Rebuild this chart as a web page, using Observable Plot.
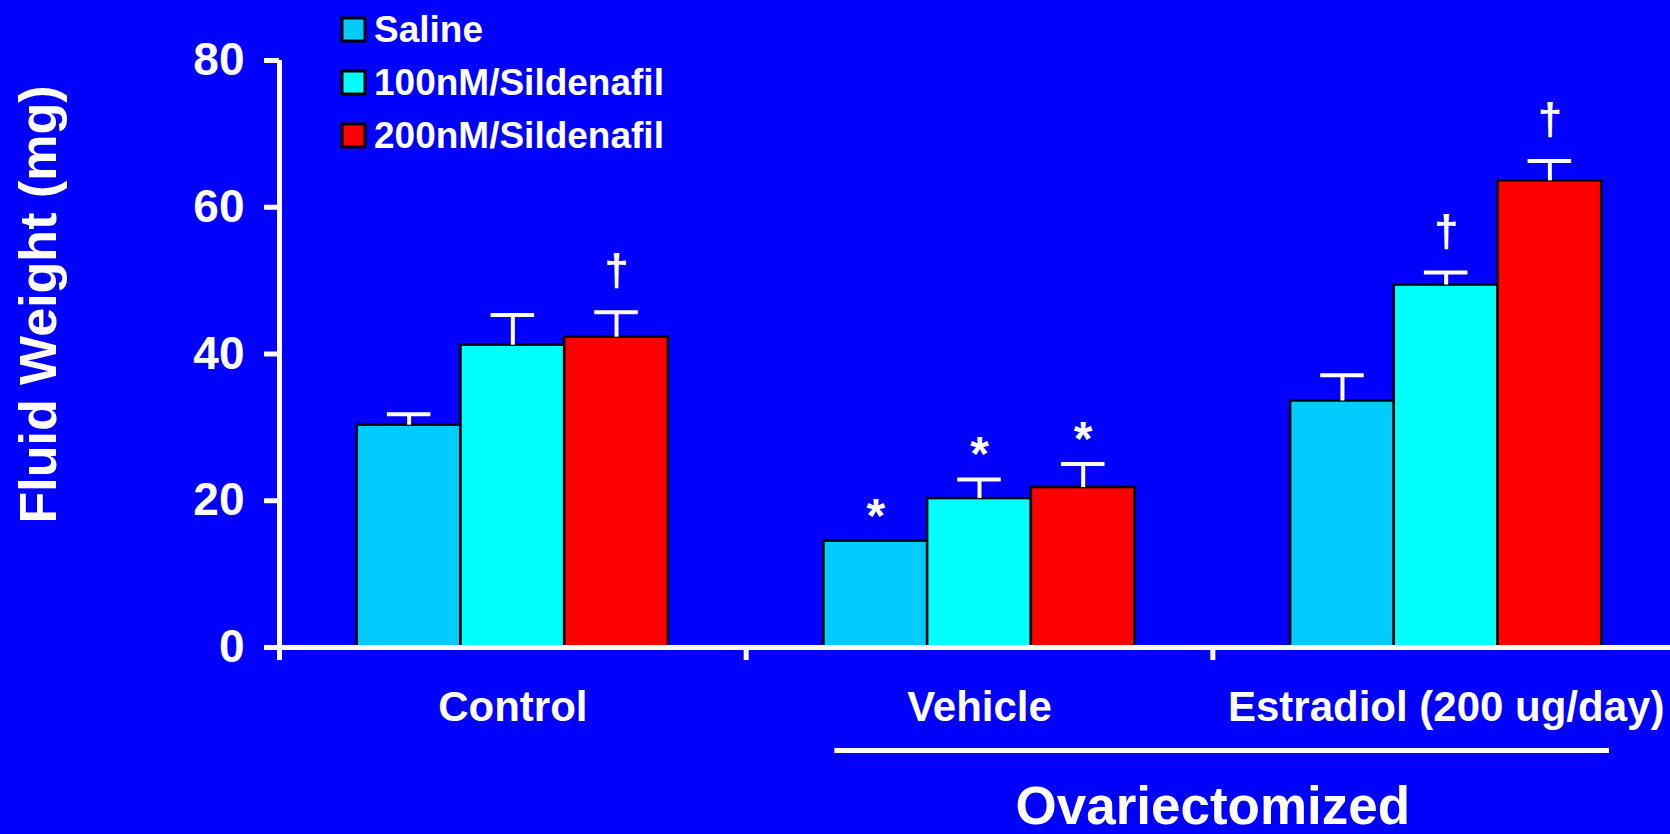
<!DOCTYPE html>
<html>
<head>
<meta charset="utf-8">
<script src="https://cdn.jsdelivr.net/npm/d3@7"></script>
<script src="https://cdn.jsdelivr.net/npm/@observablehq/plot@0.6"></script>
<style>
html, body { margin: 0; padding: 0; background: #0000FF; }
#wrap { position: relative; width: 1670px; height: 834px; overflow: hidden; background: #0000FF; }
#legend { position: absolute; left: 342px; top: 3px; }
#legend, #legend * { font-family: "Liberation Sans", Arial, Helvetica, sans-serif !important; font-weight: bold !important; font-size: 37px !important; color: #ffffff !important; }
#legend > div { margin: 0 !important; padding: 0 !important; background: none !important; }
#legend > div > div { height: 53px; margin: 0 !important; padding: 0 !important; display: flex; align-items: center; white-space: nowrap; overflow: visible !important; }
#legend svg { margin-right: 9px !important; }
#legend svg rect { stroke: #000000; stroke-width: 3px; }
</style>
</head>
<body>
<div id="wrap"><div id="chart"></div><div id="legend"></div></div>
<script>
// ---- data ----
const groups = ["Control", "Vehicle", "Estradiol (200 ug/day)"];
const series = ["Saline", "100nM/Sildenafil", "200nM/Sildenafil"];
const colors = ["#00CCFF", "#00FFFF", "#FF0000"];
const means = [
  [30.3, 41.2, 42.3],
  [14.5, 20.3, 21.8],
  [33.6, 49.4, 63.6]
];
const errors = [
  [1.5, 4.1, 3.4],
  [0.0, 2.6, 3.2],
  [3.5, 1.7, 2.7]
];
const sigMarks = [
  ["", "", "\u2020"],
  ["*", "*", "*"],
  ["", "\u2020", "\u2020"]
];
const yTicks = [0, 20, 40, 60, 80];
const yTitle = "Fluid Weight (mg)";
const spanLabel = "Ovariectomized";
const spanRange = [1.19, 2.85]; // in group units (Vehicle..Estradiol)

// ---- build table ----
const barW = 2 / 9;
const rows = [];
groups.forEach((g, gi) => {
  series.forEach((s, si) => {
    const x1 = gi + 1 / 6 + si * barW;
    rows.push({
      group: g, series: s, x1, x2: x1 + barW, xc: x1 + barW / 2,
      mean: means[gi][si], err: errors[gi][si], hi: means[gi][si] + errors[gi][si],
      mark: sigMarks[gi][si]
    });
  });
});
const withErr = rows.filter(d => d.err > 0);
const capHalf = barW * 0.21;
const FONT = '"Liberation Sans", Arial, Helvetica, sans-serif';

const chart = Plot.plot({
  width: 1670,
  height: 834,
  marginLeft: 279,
  marginRight: -9,
  marginTop: 60,
  marginBottom: 187,
  style: { background: "transparent", color: "white", fontFamily: FONT, overflow: "visible" },
  x: { type: "linear", domain: [0, 3], axis: null, label: null },
  y: { domain: [0, 80], axis: null, label: null },
  color: { domain: series, range: colors },
  marks: [
    Plot.rectY(rows, { x1: "x1", x2: "x2", y1: 0, y2: "mean", fill: "series", stroke: "black", strokeWidth: 2.5 }),
    Plot.ruleX(withErr, { x: "xc", y1: "mean", y2: "hi", stroke: "white", strokeWidth: 4 }),
    Plot.ruleY(withErr, { y: "hi", x1: d => d.xc - capHalf, x2: d => d.xc + capHalf, stroke: "white", strokeWidth: 4 }),
    Plot.text(rows.filter(d => d.mark === "*"), { x: "xc", y: "hi", text: "mark", fill: "white", fontSize: 48, fontWeight: "bold", lineAnchor: "bottom", dy: -9 }),
    Plot.text(rows.filter(d => d.mark === "\u2020"), { x: "xc", y: "hi", text: "mark", fill: "white", fontSize: 44, fontWeight: "bold", lineAnchor: "bottom", dy: -27 }),
    Plot.axisY({ ticks: yTicks, tickSize: 15, tickPadding: 20, strokeWidth: 5, stroke: "white", fill: "white", fontSize: 46, fontWeight: "bold", label: null }),
    Plot.axisX({ ticks: [0, 1, 2, 3], tickSize: 13, strokeWidth: 5, stroke: "white", tickFormat: () => "", label: null }),
    Plot.ruleX([0], { y1: 0, y2: 80, stroke: "white", strokeWidth: 5 }),
    Plot.ruleY([0], { x1: 0, x2: 3, stroke: "white", strokeWidth: 5 }),
    Plot.text(groups, { x: (d, i) => i + 0.5, y: 0, text: d => d, dy: 73, lineAnchor: "bottom", fill: "white", fontSize: 42, fontWeight: "bold" }),
    Plot.ruleY([0], { x1: spanRange[0], x2: spanRange[1], dy: 103, stroke: "white", strokeWidth: 5 }),
    Plot.text([spanLabel], { x: 2, y: 0, text: d => d, dy: 176, lineAnchor: "bottom", fill: "white", fontSize: 53, fontWeight: "bold" }),
    Plot.text([yTitle], { frameAnchor: "left", textAnchor: "middle", text: d => d, rotate: -90, dx: -224, dy: -49.5, lineAnchor: "bottom", fill: "white", fontSize: 52, fontWeight: "bold" })
  ]
});
document.getElementById("chart").appendChild(chart);

const legend = Plot.legend({
  color: { type: "ordinal", domain: series, range: colors },
  legend: "swatches",
  columns: 1,
  swatchSize: 23,
  style: { fontFamily: FONT, fontSize: "37px", fontWeight: "bold", color: "white", background: "none" }
});
document.getElementById("legend").appendChild(legend);
</script>
</body>
</html>
